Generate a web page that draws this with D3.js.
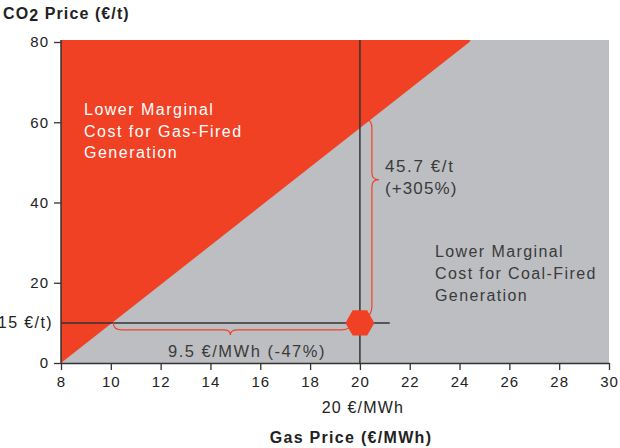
<!DOCTYPE html>
<html><head><meta charset="utf-8">
<script src="https://cdn.jsdelivr.net/npm/d3@7"></script>
<style>body{margin:0;background:#fff}svg{display:block}text{font-family:"Liberation Sans",Arial,sans-serif}</style>
</head><body><svg id="c" width="620" height="448"></svg>
<script>
// ---- data ----
const xTicks = [8,10,12,14,16,18,20,22,24,26,28,30];
const yTicks = [0,20,40,60,80];
const switchGas = [8, 24.4];      // fuel-switch line (gas price)
const switchCO2 = [0, 80];        // fuel-switch line (CO2 price)
const refGas = 20;                // reference gas price
const refCO2 = 10;                // drawn level of the 15 €/t reference
const refCO2Label = "(15 €/t)";
const refGasLabel = "20 €/MWh";
const gasBrace = [10.1, 14.8, 19.6];   // start, tip, end
const co2Brace = [60.6, 45.7, 12];     // top, tip, bottom
const gasLabel = "9.5 €/MWh (-47%)";
const co2Label = ["45.7 €/t", "(+305%)"];
const gasRegion = ["Lower Marginal", "Cost for Gas-Fired", "Generation"];
const coalRegion = ["Lower Marginal", "Cost for Coal-Fired", "Generation"];

const RED = "#f04124", GRAY = "#bdbec2", INK = "#333";
const svg = d3.select("#c");
const x = d3.scaleLinear().domain([8,30]).range([61,609]);
const y = d3.scaleLinear().domain([0,80]).range([363,42]);

// background gray
svg.append("rect").attr("x", x(8)).attr("y", y(80)-2).attr("width", x(30)-x(8)).attr("height", y(0)-y(80)+2).attr("fill", GRAY);
// red gas region
svg.append("path").attr("fill", RED)
  .attr("d", d3.line()([[x(switchGas[0]), y(switchCO2[0])], [x(switchGas[0]), y(switchCO2[1])-2], [x(switchGas[1])+1, y(switchCO2[1])-2], [x(switchGas[1]), y(switchCO2[1])]]));

// axes
const ax = svg.append("g").attr("transform", `translate(0,${y(0)})`)
  .call(d3.axisBottom(x).tickValues(xTicks).tickSize(7).tickPadding(6).tickSizeOuter(0));
const ay = svg.append("g").attr("transform", `translate(${x(8)},0)`)
  .call(d3.axisLeft(y).tickValues(yTicks).tickSize(7).tickPadding(5).tickSizeOuter(0));
[ax, ay].forEach(g => {
  g.select(".domain").attr("stroke", INK).attr("stroke-width", 1.5);
  g.selectAll(".tick line").attr("stroke", INK).attr("stroke-width", 1.3);
  g.selectAll("text").attr("font-size", 15).attr("fill", "#222").attr("letter-spacing", 1)
    .attr("font-family", '"Liberation Sans",Arial,sans-serif');
});
ay.select(".domain").attr("d", `M0,${y(80)-2}V${y(0)}`);

// reference lines
svg.append("line").attr("x1", x(8)).attr("x2", x(21.2)).attr("y1", y(refCO2)).attr("y2", y(refCO2)).attr("stroke", INK).attr("stroke-width", 1.5);
svg.append("line").attr("x1", x(refGas)).attr("x2", x(refGas)).attr("y1", y(80)-2).attr("y2", y(0)).attr("stroke", INK).attr("stroke-width", 1.5);

// braces
const hb = gasBrace.map(x), hy = y(refCO2);
svg.append("path").attr("fill","none").attr("stroke",RED).attr("stroke-width",1.2)
  .attr("d", `M${hb[0]},${hy} Q${hb[0]},${hy+7} ${hb[0]+9},${hy+7} L${hb[1]-7},${hy+7} Q${hb[1]},${hy+7} ${hb[1]},${hy+12} Q${hb[1]},${hy+7} ${hb[1]+7},${hy+7} L${hb[2]-9},${hy+7} Q${hb[2]},${hy+7} ${hb[2]+2},${hy+1}`);
const vb = co2Brace.map(y), vx = x(refGas) + 12;
svg.append("path").attr("fill","none").attr("stroke",RED).attr("stroke-width",1.2)
  .attr("d", `M${vx-5},${vb[0]} Q${vx},${vb[0]} ${vx},${vb[0]+9} L${vx},${vb[1]-7} Q${vx},${vb[1]} ${vx+7},${vb[1]} Q${vx},${vb[1]} ${vx},${vb[1]+7} L${vx},${vb[2]-9} Q${vx},${vb[2]} ${vx-6},${vb[2]+3}`);

// hexagon marker
const r = 14.5, cx = x(refGas), cy = y(refCO2);
svg.append("path").attr("fill", RED)
  .attr("d", d3.line()(d3.range(6).map(i => [cx + r*Math.cos(i*Math.PI/3), cy + r*Math.sin(i*Math.PI/3)])) + "Z");

// texts
const T = (tx, ty, s, o={}) => svg.append("text").attr("x", tx).attr("y", ty).text(s)
  .attr("font-size", o.size||16).attr("fill", o.fill||INK).attr("letter-spacing", o.ls!=null?o.ls:1.2)
  .attr("text-anchor", o.anchor||"start").attr("font-weight", o.bold?"bold":"normal");

gasRegion.forEach((s,i) => T(84, 115 + i*21.5, s, {fill:"#fff", ls:1.5}));
coalRegion.forEach((s,i) => T(435, 257 + i*22, s, {fill:"#3a3a3a", ls:1.4}));
T(385, 172, co2Label[0], {fill:"#3a3a3a", size:17, ls:1.6});
T(385, 194, co2Label[1], {fill:"#3a3a3a", size:17, ls:1.1});
T(247, 357, gasLabel, {anchor:"middle", fill:"#3a3a3a", size:16.5, ls:1.5});
T(53, y(refCO2)+5, refCO2Label, {anchor:"end", size:16, fill:"#222", ls:1.4});
T(x(refGas)+3, 413, refGasLabel, {anchor:"middle", size:16, fill:"#222", ls:1.2});
T(351, 443, "Gas Price (€/MWh)", {anchor:"middle", bold:true, fill:"#222", ls:1.3});
const t = T(3, 19, "CO", {bold:true, fill:"#222", ls:1.1});
t.append("tspan").attr("dy", 2).text("2");
t.append("tspan").attr("dy", -2).text(" Price (€/t)");
</script></body></html>
